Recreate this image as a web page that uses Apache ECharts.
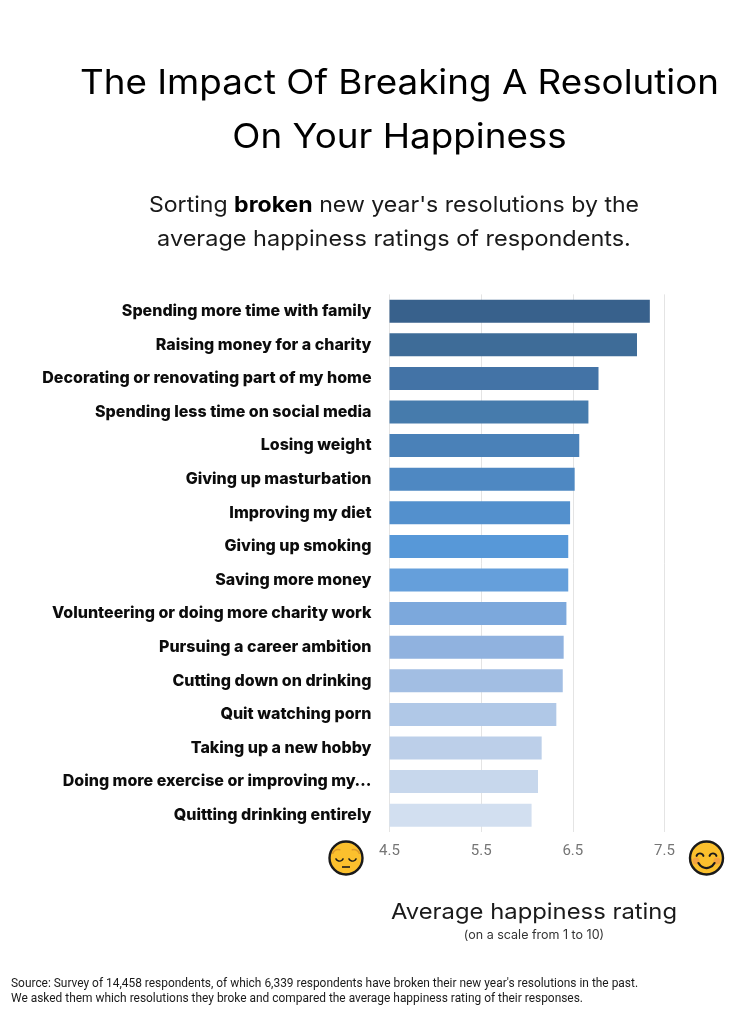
<!DOCTYPE html>
<html><head><meta charset="utf-8">
<style>html,body{margin:0;padding:0;background:#fff}#c{width:747px;height:1024px}</style>
<script src="https://cdn.jsdelivr.net/npm/echarts@6/dist/echarts.min.js"></script>
</head><body><div id="c"></div>
<script>
const categories = ["Spending more time with family","Raising money for a charity","Decorating or renovating part of my home","Spending less time on social media","Losing weight","Giving up masturbation","Improving my diet","Giving up smoking","Saving more money","Volunteering or doing more charity work","Pursuing a career ambition","Cutting down on drinking","Quit watching porn","Taking up a new hobby","Doing more exercise or improving my…","Quitting drinking entirely"];
const ratings = [7.34,7.2,6.78,6.67,6.57,6.52,6.47,6.45,6.45,6.43,6.4,6.39,6.32,6.16,6.12,6.05];
const barColors = ["#38618c","#3e6c98","#4373a6","#467bac","#4a81b8","#4e88c2","#5390cd","#5798d8","#659fdb","#7ca8dc","#90b2df","#a2bee3","#b0c8e7","#bccfe9","#c7d7ec","#d2dff0"];
const ticks = [4.5,5.5,6.5,7.5];
const FONT = "Inter, 'Noto Sans', sans-serif";
const chart = echarts.init(document.getElementById('c'), null, {renderer:'canvas'});
function arc(cx,cy,r,a,b,color,w){
  return {type:'arc',shape:{cx:cx,cy:cy,r:r,startAngle:a,endAngle:b,clockwise:true},style:{fill:'none',stroke:color,lineWidth:w,lineCap:'round'}};
}
function face(cx, cy, happy){
  const ch = [
    {type:'circle',shape:{cx:cx,cy:cy,r:16.5},style:{fill:'#fbc02d',stroke:'#1a1a1a',lineWidth:2.4}}
  ];
  const P=Math.PI;
  if(happy){
    ch.push({type:'circle',shape:{cx:cx-10.5,cy:cy+3,r:3.5},style:{fill:'#f4a340'}});
    ch.push({type:'circle',shape:{cx:cx+10.5,cy:cy+3,r:3.5},style:{fill:'#f4a340'}});
    ch.push(arc(cx-6.5,cy-1,3.6,P*1.1,P*1.9,'#1a1a1a',2));
    ch.push(arc(cx+6.5,cy-1,3.6,P*1.1,P*1.9,'#1a1a1a',2));
    ch.push(arc(cx,cy+1,9,P*0.15,P*0.85,'#1a1a1a',2.2));
  } else {
    ch.push(arc(cx-8,cy-3,5.5,P*1.1,P*1.6,'#dd9a2a',1.6));
    ch.push(arc(cx+8,cy-3,5.5,P*1.4,P*1.9,'#dd9a2a',1.6));
    ch.push(arc(cx-6.5,cy-1,4,P*0.15,P*0.85,'#1a1a1a',1.5));
    ch.push(arc(cx+6.5,cy-1,4,P*0.15,P*0.85,'#1a1a1a',1.5));
    ch.push({type:'line',shape:{x1:cx-4,y1:cy+9,x2:cx+4,y2:cy+9},style:{stroke:'#1a1a1a',lineWidth:1.6}});
  }
  return {type:'group',silent:true,children:ch};
}
function txt(x,y,text,size,color,sx,extra){
  return {type:'text',x:x,y:y,scaleX:sx||1,silent:true,style:Object.assign({text:text,font:`${size}px ${FONT}`,fill:color,align:'center',verticalAlign:'middle'},extra||{})};
}
chart.setOption({
  animation:false,
  backgroundColor:'#fff',
  grid:{left:389.5,top:294.4,width:275,height:537.6,containLabel:false},
  xAxis:{type:'value',min:4.5,max:7.5,interval:1,position:'bottom',
    axisLine:{show:false},axisTick:{show:false},
    splitLine:{show:true,lineStyle:{color:'#e4e4e4',width:1}},
    axisLabel:{color:'#757575',fontFamily:'Roboto',fontSize:15,margin:12,showMinLabel:true,showMaxLabel:true}},
  yAxis:{type:'category',inverse:true,data:categories,
    axisLine:{show:false},axisTick:{show:false},
    axisLabel:{color:'#0c0c0c',fontFamily:FONT,fontWeight:800,fontSize:16,margin:18}},
  series:[{type:'bar',barWidth:23,
    data:ratings.map((v,i)=>({value:v,itemStyle:{color:barColors[i]}}))}],
  graphic:[
    txt(399.5,84,'The Impact Of Breaking A Resolution',34,'#000',1.082),
    txt(399.5,138,'On Your Happiness',34,'#000',1.082),
    {type:'text',x:394,y:205.5,scaleX:1.05,silent:true,style:{text:"{a|Sorting }{b|broken}{a| new year's resolutions by the}",align:'center',verticalAlign:'middle',rich:{a:{font:`22px ${FONT}`,fill:'#1a1a1a'},b:{font:`700 22px ${FONT}`,fill:'#000'}}}},
    txt(394,239.5,"average happiness ratings of respondents.",22,'#1a1a1a',1.067),
    txt(534,912,'Average happiness rating',22,'#1a1a1a',1.083),
    txt(534,935,'(on a scale from 1 to 10)',12.5,'#333'),
    {type:'text',x:11,y:984,silent:true,style:{text:'Source: Survey of 14,458 respondents, of which 6,339 respondents have broken their new year\'s resolutions in the past.',font:'11.93px Roboto',fill:'#1a1a1a',verticalAlign:'middle'}},
    {type:'text',x:11,y:999,silent:true,style:{text:'We asked them which resolutions they broke and compared the average happiness rating of their responses.',font:'11.93px Roboto',fill:'#1a1a1a',verticalAlign:'middle'}},
    face(346,858,false),
    face(706.5,858,true)
  ]
});
</script></body></html>
